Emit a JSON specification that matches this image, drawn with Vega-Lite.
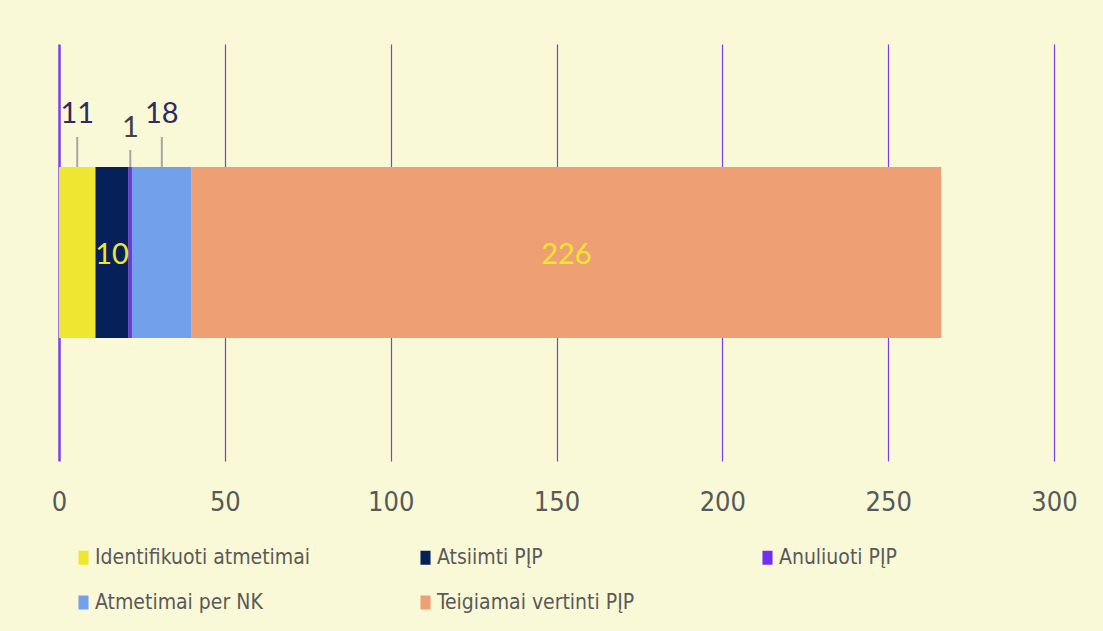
{
  "$schema": "https://vega.github.io/schema/vega-lite/v6.json",
  "width": 995,
  "height": 417,
  "autosize": {"type": "none"},
  "padding": {"left": 59, "top": 44, "right": 49, "bottom": 170},
  "background": "#FAF9D7",
  "config": {
    "view": {"stroke": null},
    "font": "DejaVu Sans Condensed, DejaVu Sans",
    "legend": {
      "orient": "none",
      "legendX": 14,
      "legendY": 503,
      "direction": "horizontal",
      "columns": 3,
      "gridAlign": "all",
      "columnPadding": 104,
      "rowPadding": 23,
      "labelFont": "DejaVu Sans Condensed, DejaVu Sans",
      "labelFontSize": 21,
      "labelColor": "#595959",
      "labelOffset": 1,
      "labelLimit": 400,
      "symbolType": "M-0.72,-1H0.72V1H-0.72Z",
      "symbolSize": 196,
      "symbolStrokeWidth": 0,
      "symbolOpacity": 1
    }
  },
  "data": {
    "values": [
      {"category": "Identifikuoti atmetimai", "value": 11, "idx": 1},
      {"category": "Atsiimti PĮP", "value": 10, "idx": 2},
      {"category": "Anuliuoti PĮP", "value": 1, "idx": 3},
      {"category": "Atmetimai per NK", "value": 18, "idx": 4},
      {"category": "Teigiamai vertinti PĮP", "value": 226, "idx": 5}
    ]
  },
  "layer": [
    {
      "transform": [
        {"stack": "value", "groupby": [], "sort": [{"field": "idx", "order": "ascending"}], "as": ["x0", "x1"]}
      ],
      "mark": {"type": "bar"},
      "encoding": {
        "x": {
          "field": "x0",
          "type": "quantitative",
          "scale": {"domain": [0, 300], "nice": false, "padding": 0},
          "axis": {
            "title": null,
            "values": [0, 50, 100, 150, 200, 250, 300],
            "domain": false,
            "ticks": false,
            "grid": true,
            "gridColor": "#7A3FF0",
            "gridWidth": {"condition": {"test": "datum.value === 0", "value": 2.5}, "value": 1.2},
            "labelFont": "DejaVu Sans Condensed, DejaVu Sans",
            "labelFontSize": 27,
            "labelColor": "#595959",
            "labelPadding": 28,
            "labelFlush": false
          }
        },
        "x2": {"field": "x1"},
        "y": {"datum": 0.295, "type": "quantitative", "scale": {"domain": [0, 1], "nice": false, "zero": false, "padding": 0}, "axis": null},
        "y2": {"datum": 0.705},
        "color": {
          "field": "category",
          "type": "nominal",
          "scale": {
            "domain": ["Identifikuoti atmetimai", "Atsiimti PĮP", "Anuliuoti PĮP", "Atmetimai per NK", "Teigiamai vertinti PĮP"],
            "range": ["#EEE630", "#06205A", "#7030F0", "#72A0EA", "#EE9F73"]
          },
          "legend": {"title": null}
        }
      }
    },
    {
      "mark": {"type": "rule", "color": "#A6A6A6", "strokeWidth": 2},
      "encoding": {
        "x": {"field": "value", "type": "quantitative", "stack": "zero", "bandPosition": 0.5},
        "y": {"datum": 0.705, "type": "quantitative"},
        "y2": {"datum": 0.777},
        "detail": {"field": "category"},
        "order": {"field": "idx", "type": "quantitative"},
        "opacity": {"condition": {"test": "datum.idx === 1 || datum.idx === 4", "value": 1}, "value": 0}
      }
    },
    {
      "mark": {"type": "rule", "color": "#A6A6A6", "strokeWidth": 2},
      "encoding": {
        "x": {"field": "value", "type": "quantitative", "stack": "zero", "bandPosition": 0.5},
        "y": {"datum": 0.705, "type": "quantitative"},
        "y2": {"datum": 0.746},
        "detail": {"field": "category"},
        "order": {"field": "idx", "type": "quantitative"},
        "opacity": {"condition": {"test": "datum.idx === 3", "value": 1}, "value": 0}
      }
    },
    {
      "mark": {"type": "text", "font": "Lato", "fontSize": 29, "baseline": "middle", "align": "center", "color": "#EFE72E", "dy": 2},
      "encoding": {
        "x": {"field": "value", "type": "quantitative", "stack": "zero", "bandPosition": 0.5},
        "y": {"datum": 0.5, "type": "quantitative"},
        "detail": {"field": "category"},
        "order": {"field": "idx", "type": "quantitative"},
        "text": {"field": "value", "type": "quantitative"},
        "opacity": {"condition": {"test": "datum.idx === 2 || datum.idx === 5", "value": 1}, "value": 0}
      }
    },
    {
      "mark": {"type": "text", "font": "Lato", "fontSize": 29, "baseline": "middle", "align": "center", "color": "#2E2B5F"},
      "encoding": {
        "x": {"field": "value", "type": "quantitative", "stack": "zero", "bandPosition": 0.5},
        "y": {"datum": 0.832, "type": "quantitative"},
        "detail": {"field": "category"},
        "order": {"field": "idx", "type": "quantitative"},
        "text": {"field": "value", "type": "quantitative"},
        "opacity": {"condition": {"test": "datum.idx === 1 || datum.idx === 4", "value": 1}, "value": 0}
      }
    },
    {
      "mark": {"type": "text", "font": "Lato", "fontSize": 29, "baseline": "middle", "align": "center", "color": "#404040"},
      "encoding": {
        "x": {"field": "value", "type": "quantitative", "stack": "zero", "bandPosition": 0.5},
        "y": {"datum": 0.799, "type": "quantitative"},
        "detail": {"field": "category"},
        "order": {"field": "idx", "type": "quantitative"},
        "text": {"field": "value", "type": "quantitative"},
        "opacity": {"condition": {"test": "datum.idx === 3", "value": 1}, "value": 0}
      }
    }
  ]
}
